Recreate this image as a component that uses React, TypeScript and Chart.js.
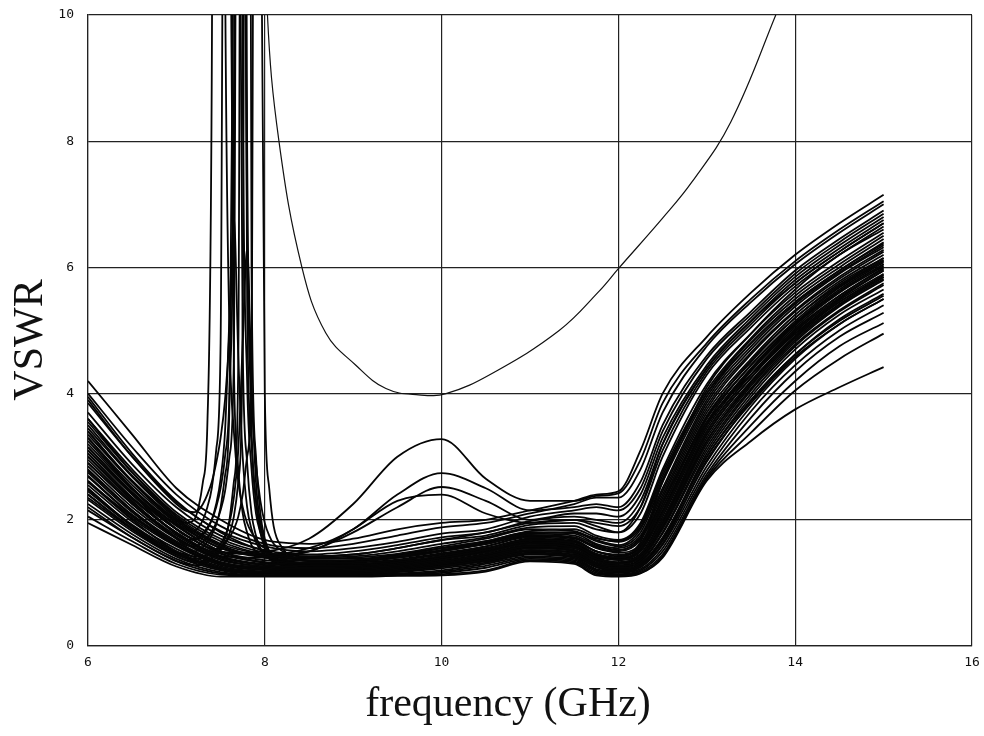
import React, { useEffect, useRef } from "react";
import { Chart, registerables } from "chart.js";

Chart.register(...registerables);

// ---- axes ----
const X_TICKS = [6, 8, 10, 12, 14, 16];
const Y_TICKS = [0, 2, 4, 6, 8, 10];
const X_TITLE = "frequency (GHz)";
const Y_TITLE = "VSWR";

// ---- main band of measured curves (VSWR vs GHz) ----
const BAND_FREQ = [6, 6.5, 7, 7.5, 8, 8.5, 9, 9.5, 10, 10.5, 11, 11.5, 11.75, 12, 12.25, 12.5, 13, 13.5, 14, 14.5, 15];

const BAND_01 = [4.2, 3.35, 2.5, 2.0, 1.68, 1.62, 1.7, 1.85, 1.95, 2.0, 2.15, 2.3, 2.4, 2.45, 3.1, 4.0, 4.9, 5.6, 6.2, 6.7, 7.15];
const BAND_02 = [4.0, 3.15, 2.4, 1.9, 1.62, 1.55, 1.62, 1.75, 1.88, 1.95, 2.1, 2.25, 2.35, 2.35, 2.8, 3.7, 4.75, 5.45, 6.05, 6.55, 7.0];
const BAND_03 = [3.85, 3.0, 2.28, 1.82, 1.58, 1.5, 1.55, 1.65, 1.78, 1.85, 2.05, 2.15, 2.2, 2.15, 2.5, 3.4, 4.55, 5.25, 5.9, 6.4, 6.85];
const BAND_04 = [3.7, 2.88, 2.2, 1.75, 1.52, 1.45, 1.5, 1.6, 1.72, 1.8, 1.98, 2.05, 2.0, 1.95, 2.3, 3.2, 4.4, 5.15, 5.8, 6.3, 6.75];
const BAND_05 = [3.6, 2.8, 2.12, 1.7, 1.48, 1.42, 1.45, 1.55, 1.68, 1.75, 1.92, 1.95, 1.85, 1.8, 2.1, 3.0, 4.3, 5.05, 5.7, 6.2, 6.65];
const BAND_06 = [3.5, 2.7, 2.05, 1.62, 1.45, 1.4, 1.42, 1.5, 1.62, 1.72, 1.88, 1.9, 1.75, 1.68, 1.95, 2.8, 4.15, 4.95, 5.6, 6.1, 6.55];
const BAND_07 = [3.4, 2.62, 2.0, 1.58, 1.42, 1.38, 1.4, 1.46, 1.58, 1.7, 1.85, 1.82, 1.68, 1.6, 1.85, 2.65, 4.0, 4.85, 5.5, 6.0, 6.45];
const BAND_08 = [3.3, 2.55, 1.95, 1.55, 1.4, 1.35, 1.36, 1.42, 1.55, 1.66, 1.8, 1.78, 1.62, 1.55, 1.75, 2.5, 3.9, 4.75, 5.42, 5.92, 6.35];
const BAND_09 = [3.2, 2.48, 1.9, 1.5, 1.36, 1.32, 1.33, 1.4, 1.5, 1.62, 1.76, 1.72, 1.56, 1.5, 1.68, 2.4, 3.8, 4.65, 5.32, 5.85, 6.28];
const BAND_10 = [3.1, 2.4, 1.85, 1.46, 1.33, 1.3, 1.3, 1.36, 1.46, 1.58, 1.72, 1.68, 1.5, 1.45, 1.6, 2.3, 3.7, 4.55, 5.25, 5.78, 6.2];
const BAND_11 = [3.0, 2.33, 1.8, 1.43, 1.3, 1.28, 1.28, 1.33, 1.43, 1.55, 1.68, 1.64, 1.46, 1.4, 1.55, 2.2, 3.6, 4.45, 5.15, 5.7, 6.12];
const BAND_12 = [2.95, 2.28, 1.75, 1.4, 1.28, 1.25, 1.26, 1.3, 1.4, 1.52, 1.65, 1.6, 1.42, 1.37, 1.5, 2.1, 3.5, 4.38, 5.08, 5.62, 6.05];
const BAND_13 = [2.85, 2.2, 1.7, 1.36, 1.26, 1.23, 1.24, 1.28, 1.37, 1.48, 1.62, 1.56, 1.38, 1.33, 1.45, 2.0, 3.4, 4.3, 5.0, 5.55, 5.98];
const BAND_14 = [2.78, 2.15, 1.66, 1.33, 1.24, 1.21, 1.22, 1.26, 1.34, 1.45, 1.58, 1.52, 1.35, 1.3, 1.4, 1.92, 3.3, 4.2, 4.92, 5.48, 5.9];
const BAND_15 = [2.7, 2.08, 1.62, 1.3, 1.22, 1.2, 1.2, 1.24, 1.32, 1.42, 1.55, 1.5, 1.32, 1.27, 1.36, 1.85, 3.2, 4.12, 4.85, 5.4, 5.82];
const BAND_16 = [2.62, 2.02, 1.58, 1.28, 1.2, 1.18, 1.18, 1.22, 1.3, 1.4, 1.52, 1.47, 1.3, 1.24, 1.32, 1.78, 3.1, 4.05, 4.78, 5.32, 5.75];
const BAND_17 = [2.55, 1.97, 1.54, 1.26, 1.18, 1.17, 1.17, 1.2, 1.27, 1.37, 1.5, 1.44, 1.27, 1.22, 1.3, 1.72, 3.0, 3.95, 4.7, 5.25, 5.65];
const BAND_18 = [2.48, 1.92, 1.5, 1.24, 1.17, 1.16, 1.16, 1.18, 1.25, 1.35, 1.47, 1.42, 1.25, 1.2, 1.27, 1.66, 2.92, 3.88, 4.62, 5.18, 5.58];
const BAND_19 = [2.4, 1.87, 1.46, 1.22, 1.16, 1.15, 1.15, 1.17, 1.23, 1.32, 1.45, 1.4, 1.22, 1.18, 1.25, 1.6, 2.85, 3.8, 4.55, 5.1, 5.5];
const BAND_20 = [2.32, 1.82, 1.42, 1.2, 1.14, 1.14, 1.14, 1.15, 1.2, 1.3, 1.42, 1.38, 1.2, 1.16, 1.22, 1.55, 2.78, 3.72, 4.45, 5.0, 5.4];
const BAND_21 = [2.25, 1.77, 1.38, 1.17, 1.13, 1.13, 1.13, 1.14, 1.18, 1.27, 1.4, 1.36, 1.18, 1.14, 1.2, 1.5, 2.72, 3.62, 4.35, 4.9, 5.28];
const BAND_22 = [2.15, 1.72, 1.34, 1.15, 1.12, 1.12, 1.12, 1.13, 1.16, 1.24, 1.38, 1.34, 1.16, 1.13, 1.18, 1.45, 2.68, 3.5, 4.2, 4.75, 5.12];
const BAND_23 = [2.05, 1.66, 1.3, 1.13, 1.11, 1.11, 1.11, 1.12, 1.14, 1.2, 1.36, 1.32, 1.14, 1.12, 1.16, 1.42, 2.65, 3.38, 4.05, 4.55, 4.95];
const BAND_24 = [1.95, 1.6, 1.26, 1.1, 1.1, 1.1, 1.1, 1.11, 1.12, 1.18, 1.34, 1.3, 1.12, 1.1, 1.15, 1.4, 2.62, 3.25, 3.75, 4.1, 4.42];
const BAND_25 = [3.95, 3.05, 2.3, 1.8, 1.5, 1.35, 1.3, 1.3, 1.35, 1.45, 1.6, 1.58, 1.45, 1.4, 1.65, 2.6, 4.1, 4.95, 5.65, 6.2, 6.6];
const BAND_26 = [2.6, 2.05, 1.6, 1.32, 1.25, 1.28, 1.35, 1.45, 1.55, 1.62, 1.75, 1.72, 1.58, 1.52, 1.7, 2.3, 3.55, 4.3, 4.95, 5.45, 5.85];
const BAND_27 = [3.25, 2.5, 1.92, 1.5, 1.32, 1.25, 1.22, 1.24, 1.3, 1.4, 1.55, 1.5, 1.3, 1.22, 1.3, 1.7, 3.05, 4.0, 4.75, 5.3, 5.72];
const BAND_28 = [2.9, 2.25, 1.72, 1.38, 1.25, 1.2, 1.2, 1.22, 1.28, 1.38, 1.52, 1.48, 1.3, 1.25, 1.38, 1.95, 3.35, 4.25, 4.95, 5.5, 5.95];
const BAND_29 = [3.45, 2.68, 2.02, 1.6, 1.4, 1.32, 1.35, 1.42, 1.52, 1.62, 1.78, 1.8, 1.7, 1.66, 1.92, 2.75, 4.05, 4.88, 5.55, 6.05, 6.5];
const BAND_30 = [2.35, 1.85, 1.45, 1.22, 1.15, 1.15, 1.17, 1.22, 1.3, 1.4, 1.55, 1.52, 1.36, 1.3, 1.42, 1.9, 3.25, 4.15, 4.88, 5.42, 5.85];
const BAND_31 = [3.05, 2.35, 1.78, 1.42, 1.28, 1.24, 1.27, 1.35, 1.45, 1.55, 1.68, 1.65, 1.5, 1.42, 1.58, 2.25, 3.65, 4.5, 5.2, 5.72, 6.15];
const BAND_32 = [2.75, 2.12, 1.64, 1.33, 1.22, 1.18, 1.19, 1.22, 1.28, 1.36, 1.48, 1.45, 1.28, 1.2, 1.28, 1.68, 3.0, 3.9, 4.62, 5.15, 5.55];
const BAND_33 = [3.55, 2.75, 2.08, 1.66, 1.45, 1.38, 1.38, 1.44, 1.55, 1.66, 1.82, 1.85, 1.72, 1.65, 1.88, 2.7, 4.0, 4.8, 5.45, 5.95, 6.38];
const BAND_34 = [2.45, 1.9, 1.48, 1.24, 1.17, 1.16, 1.18, 1.24, 1.32, 1.42, 1.57, 1.55, 1.4, 1.32, 1.45, 2.0, 3.4, 4.3, 5.02, 5.55, 6.0];
const BAND_35 = [3.15, 2.44, 1.86, 1.47, 1.32, 1.27, 1.28, 1.32, 1.4, 1.5, 1.63, 1.6, 1.44, 1.38, 1.52, 2.12, 3.5, 4.38, 5.1, 5.62, 6.05];
const BAND_36 = [2.68, 2.07, 1.6, 1.3, 1.2, 1.17, 1.17, 1.2, 1.26, 1.34, 1.46, 1.42, 1.25, 1.18, 1.25, 1.62, 2.95, 3.85, 4.58, 5.1, 5.5];

// curves with a hump near 10 GHz
const HUMP_01 = [3.05, 2.35, 1.8, 1.48, 1.5, 1.7, 2.25, 3.0, 3.28, 2.65, 2.3, 2.3, 2.38, 2.42, 2.95, 3.85, 4.8, 5.5, 6.1, 6.6, 7.05];
const HUMP_02 = [3.15, 2.42, 1.85, 1.5, 1.45, 1.55, 1.85, 2.4, 2.74, 2.5, 2.15, 2.2, 2.25, 2.2, 2.6, 3.5, 4.6, 5.3, 5.95, 6.45, 6.9];
const HUMP_03 = [2.9, 2.25, 1.72, 1.42, 1.4, 1.5, 1.8, 2.2, 2.52, 2.3, 2.0, 2.1, 2.1, 2.05, 2.4, 3.3, 4.45, 5.2, 5.85, 6.35, 6.8];
const HUMP_04 = [3.35, 2.6, 1.98, 1.55, 1.45, 1.5, 1.85, 2.3, 2.4, 2.1, 1.95, 2.0, 1.95, 1.9, 2.2, 3.1, 4.35, 5.1, 5.75, 6.25, 6.7];

// curves with a resonance spike around 7.4 - 8.0 GHz
const SPIKE_FREQ = [6, 6.5, 7, 7.1, 7.2, 7.25, 7.3, 7.35, 7.4, 7.45, 7.5, 7.55, 7.6, 7.65, 7.7, 7.75, 7.8, 7.85, 7.9, 7.95, 8.0, 8.05, 8.1, 8.2, 8.3, 8.5, 9,
  9.5, 10, 10.5, 11, 11.5, 11.75, 12, 12.25, 12.5, 13, 13.5, 14, 14.5, 15];

const SPIKE_01 = [3.6, 2.75, 2.05, 1.95, 2.0, 2.2, 2.6, 3.5, 9, 30, 30, 11, 5, 3.4, 2.6, 2.2, 1.95, 1.8, 1.7, 1.6, 1.55, 1.5, 1.45, 1.4, 1.38, 1.35, 1.35,
  1.4, 1.5, 1.62, 1.78, 1.75, 1.6, 1.52, 1.72, 2.45, 3.85, 4.7, 5.38, 5.9, 6.32];
const SPIKE_02 = [3.3, 2.5, 1.85, 1.75, 1.7, 1.72, 1.78, 1.88, 2.0, 2.2, 2.5, 3.0, 4.0, 8.5, 30, 9, 4.2, 2.8, 2.1, 1.8, 1.6, 1.5, 1.45, 1.38, 1.33, 1.3, 1.32,
  1.37, 1.47, 1.58, 1.74, 1.7, 1.55, 1.48, 1.62, 2.35, 3.75, 4.62, 5.3, 5.82, 6.25];
const SPIKE_03 = [3.0, 2.3, 1.7, 1.6, 1.58, 1.6, 1.65, 1.72, 1.82, 1.95, 2.15, 2.45, 3.0, 4.6, 20, 20, 5.5, 3.2, 2.3, 1.9, 1.65, 1.5, 1.4, 1.32, 1.28, 1.25, 1.26,
  1.3, 1.38, 1.5, 1.64, 1.58, 1.42, 1.36, 1.46, 2.05, 3.45, 4.35, 5.05, 5.6, 6.02];
const SPIKE_04 = [2.8, 2.15, 1.6, 1.52, 1.5, 1.52, 1.57, 1.65, 1.76, 1.92, 2.2, 2.7, 3.8, 12, 15, 4.8, 2.9, 2.1, 1.75, 1.55, 1.45, 1.38, 1.33, 1.28, 1.25, 1.22, 1.24,
  1.28, 1.35, 1.46, 1.6, 1.55, 1.38, 1.32, 1.42, 1.95, 3.35, 4.25, 4.98, 5.52, 5.95];
const SPIKE_05 = [2.6, 2.0, 1.5, 1.45, 1.42, 1.42, 1.43, 1.45, 1.48, 1.52, 1.57, 1.63, 1.72, 1.85, 2.05, 2.4, 3.0, 4.6, 25, 14, 4.0, 2.5, 1.9, 1.55, 1.42, 1.35, 1.35,
  1.4, 1.52, 1.64, 1.8, 1.8, 1.66, 1.58, 1.8, 2.6, 3.95, 4.8, 5.45, 5.95, 6.4];
const SPIKE_06 = [2.4, 1.85, 1.42, 1.36, 1.33, 1.33, 1.34, 1.36, 1.4, 1.45, 1.52, 1.62, 1.78, 2.05, 2.6, 5, 30, 6, 3.0, 2.1, 1.7, 1.5, 1.4, 1.3, 1.26, 1.22, 1.22,
  1.25, 1.32, 1.43, 1.57, 1.52, 1.35, 1.28, 1.38, 1.88, 3.25, 4.18, 4.9, 5.45, 5.88];
const SPIKE_07 = [3.4, 2.6, 1.95, 1.85, 1.82, 1.88, 2.0, 2.2, 2.5, 3.1, 4.8, 18, 14, 4.5, 2.8, 2.1, 1.8, 1.6, 1.5, 1.45, 1.42, 1.4, 1.38, 1.35, 1.32, 1.3, 1.3,
  1.34, 1.42, 1.54, 1.7, 1.66, 1.5, 1.44, 1.56, 2.2, 3.62, 4.52, 5.2, 5.75, 6.15];
const SPIKE_08 = [3.9, 3.0, 2.25, 2.15, 2.12, 2.15, 2.25, 2.4, 2.6, 2.9, 3.3, 3.9, 5.0, 7.5, 16, 16, 6.5, 4.0, 2.9, 2.3, 1.95, 1.75, 1.62, 1.5, 1.45, 1.42, 1.45,
  1.55, 1.68, 1.8, 1.95, 2.0, 1.9, 1.8, 2.2, 3.2, 4.4, 5.15, 5.75, 6.25, 6.7];
const SPIKE_09 = [2.2, 1.72, 1.35, 1.3, 1.28, 1.28, 1.3, 1.33, 1.38, 1.45, 1.55, 1.7, 2.0, 2.6, 4.5, 25, 8, 3.5, 2.3, 1.8, 1.55, 1.42, 1.35, 1.28, 1.24, 1.2, 1.2,
  1.22, 1.28, 1.38, 1.52, 1.48, 1.32, 1.25, 1.34, 1.8, 3.15, 4.08, 4.82, 5.38, 5.8];
const SPIKE_10 = [3.1, 2.4, 1.78, 1.7, 1.68, 1.7, 1.76, 1.85, 2.0, 2.25, 2.65, 3.4, 5.2, 6.8, 4.6, 3.0, 2.2, 1.85, 1.65, 1.52, 1.45, 1.4, 1.36, 1.32, 1.3, 1.28, 1.3,
  1.33, 1.41, 1.52, 1.66, 1.62, 1.46, 1.4, 1.52, 2.15, 3.55, 4.45, 5.12, 5.68, 6.1];
const SPIKE_11 = [2.5, 1.9, 1.45, 1.4, 1.38, 1.38, 1.4, 1.43, 1.47, 1.53, 1.62, 1.75, 1.95, 2.35, 3.1, 4.8, 6.3, 4.2, 2.6, 1.95, 1.65, 1.5, 1.42, 1.35, 1.3, 1.27, 1.28,
  1.31, 1.39, 1.5, 1.63, 1.6, 1.44, 1.38, 1.5, 2.1, 3.5, 4.4, 5.1, 5.65, 6.08];

// the single large off-band curve
const PARA_FREQ = [7.95, 8.03, 8.16, 8.42, 8.69, 9.03, 9.37, 9.74, 10.05, 10.57, 11.33, 11.78, 12.0, 12.5, 12.83, 13.27, 13.78, 14.0];
const PARA_VSWR = [14, 10, 8, 6, 4.96, 4.45, 4.08, 3.98, 4.0, 4.32, 5.0, 5.62, 5.98, 6.78, 7.35, 8.3, 10, 10.8];

const BAND_SET = [BAND_01, BAND_02, BAND_03, BAND_04, BAND_05, BAND_06, BAND_07, BAND_08, BAND_09, BAND_10, BAND_11, BAND_12,
  BAND_13, BAND_14, BAND_15, BAND_16, BAND_17, BAND_18, BAND_19, BAND_20, BAND_21, BAND_22, BAND_23, BAND_24,
  BAND_25, BAND_26, BAND_27, BAND_28, BAND_29, BAND_30, BAND_31, BAND_32, BAND_33, BAND_34, BAND_35, BAND_36,
  HUMP_01, HUMP_02, HUMP_03, HUMP_04];
const SPIKE_SET = [SPIKE_01, SPIKE_02, SPIKE_03, SPIKE_04, SPIKE_05, SPIKE_06, SPIKE_07, SPIKE_08, SPIKE_09, SPIKE_10, SPIKE_11];

const W = 984;
const H = 736;

const titlesPlugin = {
  id: "axisTitles",
  afterDraw(chart: any) {
    const ctx = chart.ctx;
    ctx.save();
    ctx.fillStyle = "#111";
    ctx.font = '42px "Liberation Serif", "Times New Roman", serif';
    ctx.textAlign = "center";
    ctx.textBaseline = "alphabetic";
    ctx.fillText(X_TITLE, 508, 716);
    ctx.translate(42, 340);
    ctx.rotate(-Math.PI / 2);
    ctx.fillText(Y_TITLE, 0, 0);
    ctx.restore();
  },
};

export default function App() {
  const ref = useRef<HTMLCanvasElement | null>(null);

  useEffect(() => {
    if (!ref.current) return;
    const pts = (fs: number[], vs: number[]) => fs.map((f, i) => ({ x: f, y: vs[i] }));
    const lineStyle = {
      borderColor: "#050505",
      borderWidth: 1.8,
      pointRadius: 0,
      fill: false,
      cubicInterpolationMode: "monotone" as const,
    };
    const datasets: any[] = [];
    BAND_SET.forEach((vs, i) => datasets.push({ label: "band " + (i + 1), data: pts(BAND_FREQ, vs), ...lineStyle }));
    SPIKE_SET.forEach((vs, i) => datasets.push({ label: "spike " + (i + 1), data: pts(SPIKE_FREQ, vs), ...lineStyle }));
    datasets.push({
      label: "outlier",
      data: pts(PARA_FREQ, PARA_VSWR),
      borderColor: "#111",
      borderWidth: 1.2,
      pointRadius: 0,
      fill: false,
      tension: 0.4,
    });

    const tickFont = { family: '"DejaVu Sans Mono", monospace', size: 13 };
    const chart = new Chart(ref.current, {
      type: "line",
      data: { datasets },
      plugins: [titlesPlugin],
      options: {
        animation: false,
        responsive: false,
        events: [],
        layout: { padding: { top: 15, right: 12, left: 0, bottom: 0 } },
        plugins: { legend: { display: false }, tooltip: { enabled: false }, title: { display: false } },
        scales: {
          x: {
            type: "linear",
            min: 6,
            max: 16,
            afterBuildTicks: (s: any) => { s.ticks = X_TICKS.map((v) => ({ value: v })); },
            afterFit: (s: any) => { s.height = 90; s.paddingLeft = 0; s.paddingRight = 0; },
            grid: { color: "#222", lineWidth: 1.2, drawTicks: false },
            border: { color: "#222", width: 1.2 },
            ticks: { padding: 9, color: "#111", font: tickFont, maxRotation: 0, autoSkip: false },
          },
          y: {
            type: "linear",
            min: 0,
            max: 10,
            afterBuildTicks: (s: any) => { s.ticks = Y_TICKS.map((v) => ({ value: v })); },
            afterFit: (s: any) => { s.width = 88; s.paddingTop = 0; s.paddingBottom = 0; },
            grid: { color: "#222", lineWidth: 1.2, drawTicks: false },
            border: { color: "#222", width: 1.2 },
            ticks: { padding: 14, color: "#111", font: tickFont, autoSkip: false },
          },
        },
      } as any,
    });
    return () => chart.destroy();
  }, []);

  return (
    <div style={{ position: "fixed", left: 0, top: 0, width: W, height: H, background: "#fff" }}>
      <canvas ref={ref} width={W} height={H} style={{ display: "block", width: W, height: H }} />
    </div>
  );
}
